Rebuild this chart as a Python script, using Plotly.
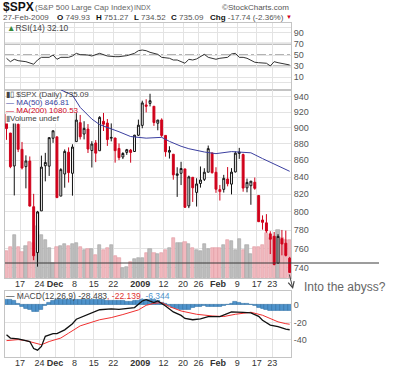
import plotly.graph_objects as go

# ---------------- data ----------------
dates = [
    "2008-11-11", "2008-11-12", "2008-11-13", "2008-11-14",
    "2008-11-17", "2008-11-18", "2008-11-19", "2008-11-20", "2008-11-21",
    "2008-11-24", "2008-11-25", "2008-11-26", "2008-11-28",
    "2008-12-01", "2008-12-02", "2008-12-03", "2008-12-04", "2008-12-05",
    "2008-12-08", "2008-12-09", "2008-12-10", "2008-12-11", "2008-12-12",
    "2008-12-15", "2008-12-16", "2008-12-17", "2008-12-18", "2008-12-19",
    "2008-12-22", "2008-12-23", "2008-12-24", "2008-12-26",
    "2008-12-29", "2008-12-30", "2008-12-31", "2009-01-02",
    "2009-01-05", "2009-01-06", "2009-01-07", "2009-01-08", "2009-01-09",
    "2009-01-12", "2009-01-13", "2009-01-14", "2009-01-15", "2009-01-16",
    "2009-01-20", "2009-01-21", "2009-01-22", "2009-01-23",
    "2009-01-26", "2009-01-27", "2009-01-28", "2009-01-29", "2009-01-30",
    "2009-02-02", "2009-02-03", "2009-02-04", "2009-02-05", "2009-02-06",
    "2009-02-09", "2009-02-10", "2009-02-11", "2009-02-12", "2009-02-13",
    "2009-02-17", "2009-02-18", "2009-02-19", "2009-02-20",
    "2009-02-23", "2009-02-24", "2009-02-25", "2009-02-26", "2009-02-27",
]
opens = [917.15, 893.39, 853.13, 904.36, 873.23, 852.34, 859.03, 805.87, 755.84, 801.20,
         853.40, 852.90, 886.89, 888.61, 817.94, 843.60, 869.75, 844.43, 882.71, 906.48,
         892.17, 898.35, 871.79, 881.07, 871.53, 908.16, 905.98, 886.96, 887.20, 874.31,
         863.87, 869.51, 872.37, 870.58, 890.59, 902.99, 929.17, 931.17, 927.45, 905.73,
         909.91, 890.40, 869.79, 867.28, 841.99, 844.45, 849.64, 806.77, 839.74, 822.16,
         832.50, 837.30, 845.73, 868.89, 845.69, 823.09, 825.69, 837.77, 831.75, 846.09,
         868.24, 866.87, 827.41, 829.91, 833.95, 818.61, 791.06, 787.91, 775.87, 773.25,
         744.69, 770.64, 765.76, 749.93]
highs = [917.15, 893.39, 913.01, 916.88, 882.29, 865.90, 864.57, 820.52, 801.20, 865.60,
         868.94, 887.68, 896.25, 888.61, 850.54, 873.12, 875.60, 879.42, 918.57, 916.26,
         908.27, 904.63, 883.24, 884.63, 914.66, 918.85, 911.02, 905.47, 887.37, 880.44,
         869.79, 873.74, 873.70, 891.12, 910.32, 934.73, 936.63, 943.85, 927.45, 910.00,
         911.93, 890.40, 877.02, 867.28, 851.59, 858.13, 849.64, 841.72, 839.74, 838.61,
         852.53, 850.45, 877.86, 868.89, 851.66, 830.78, 842.60, 851.85, 850.55, 870.75,
         875.01, 868.05, 838.22, 835.48, 839.43, 818.61, 796.17, 797.58, 778.69, 777.85,
         775.49, 780.12, 779.42, 751.27]
lows = [884.90, 850.48, 818.69, 869.88, 848.98, 826.84, 806.18, 747.78, 741.02, 801.20,
        834.99, 841.37, 881.21, 815.69, 817.94, 827.60, 833.60, 818.41, 882.71, 885.38,
        885.45, 868.73, 851.35, 857.72, 871.53, 895.94, 877.44, 883.02, 857.09, 860.10,
        861.44, 866.52, 857.07, 870.58, 889.67, 899.35, 919.53, 927.28, 902.37, 896.81,
        888.31, 864.32, 862.02, 836.93, 817.04, 830.66, 804.47, 804.30, 811.29, 806.07,
        827.69, 835.40, 845.73, 844.15, 821.67, 812.87, 821.98, 829.18, 819.91, 845.42,
        861.65, 822.99, 822.30, 808.06, 825.21, 789.17, 780.43, 777.03, 754.25, 742.37,
        744.69, 752.89, 751.75, 734.52]
closes = [898.95, 852.30, 911.29, 873.29, 850.75, 859.12, 806.58, 752.44, 800.03, 851.81,
          857.39, 887.68, 896.24, 816.21, 848.81, 870.74, 845.22, 876.07, 909.70, 888.67,
          899.24, 873.59, 879.73, 868.57, 913.18, 904.42, 885.28, 887.88, 871.63, 863.16,
          868.15, 872.80, 869.42, 890.64, 903.25, 931.80, 927.45, 934.70, 906.65, 909.73,
          890.35, 870.26, 871.79, 842.62, 843.74, 850.12, 805.22, 840.24, 827.50, 831.95,
          836.57, 845.71, 874.09, 845.14, 825.88, 825.44, 838.51, 832.23, 845.85, 868.60,
          869.89, 827.16, 833.74, 835.19, 826.84, 789.17, 788.42, 778.94, 770.05, 743.33,
          773.14, 764.90, 752.83, 735.09]
close_before_first = 919.21

# volume (relative units, read as bar heights)
volume = [27, 30.7, 43, 31.3, 26.3, 32, 36.3, 35, 52, 43,
          38, 29.7, 15, 31.3, 32.3, 33.7, 32.3, 34, 34.7, 31.3,
          28, 28.7, 28.7, 23, 33, 28, 29.7, 33, 22.3, 19.7,
          9.7, 10.7, 16.3, 18.7, 19.7, 19.7, 24.7, 29, 24.7, 23.7,
          24.7, 28, 30.3, 39.7, 34.7, 34.7, 36.3, 33.7, 30.3, 28,
          27, 33.7, 28.7, 30.3, 29.7, 30.3, 33, 38, 37, 28,
          39, 28, 33, 23.7, 31.3, 31.3, 33, 44.7, 39.7, 41.3,
          48, 39.7, 38, 38]

# MA(50) read at selected bars
ma50_bar = [14, 17, 19, 22, 24, 27, 29, 32, 36, 40, 42, 45, 47, 51, 54, 58, 63, 66, 70, 73]
ma50_val = [949, 942, 926, 911, 904, 899, 895, 889, 887, 888, 883, 877, 874, 870, 868,
            870.5, 869, 862, 853, 846.81]

# RSI(14) read at selected bars
rsi_bar = [0, 1, 2, 3, 5, 6, 7, 8, 9, 11, 12, 13, 14, 16, 17, 18, 19, 21, 22, 24, 25, 26,
           28, 29, 31, 33, 34, 35, 36, 37, 39, 40, 42, 43, 44, 46, 47, 48, 49, 50, 51, 52,
           54, 55, 57, 58, 59, 60, 61, 62, 64, 65, 67, 68, 69, 70, 72, 73]
rsi_val = [44.1, 38, 42.3, 39.8, 38, 35.2, 33.4, 41, 45.8, 45.8, 50, 42.3, 45.8, 45.8,
           48.2, 53, 50.6, 50, 48.2, 53, 51.2, 48.2, 47, 47, 48.8, 53, 57.7, 58.9, 57.7,
           54.8, 51.2, 45.8, 44.1, 41, 41, 35.2, 42.3, 41, 42.9, 47, 51.2, 45.8, 42.3,
           44.1, 45.8, 51.8, 53, 45.8, 45.8, 44.1, 37, 36.2, 35.2, 30.4, 38, 36.2, 33.4, 32.1]

# MACD(12,26,9)
macd_bar = [0, 1, 3, 6, 7, 8, 9, 10, 12, 13, 15, 17, 18, 21, 24, 27, 29, 33, 35, 36, 38,
            39, 41, 43, 45, 46, 48, 50, 51, 52, 55, 57, 58, 61, 63, 65, 66, 68, 70, 72, 73]
macd_val = [-34.3, -38, -39, -42, -50, -52, -47.6, -36, -33, -33, -28.6, -21.5, -16.4,
            -10.5, -5.5, -4.6, -5.1, -3, 4.6, 6, 2.7, 4.6, -1.1, -8, -12, -15.5, -17, -16,
            -14.5, -13.3, -13.3, -10, -8, -8.4, -9.1, -13, -17.5, -23.2, -25, -27.8, -28.483]
signal_bar = [0, 3, 5, 8, 9, 11, 14, 16, 19, 24, 27, 30, 34, 36, 38, 40, 42, 45, 49, 53,
              56, 59, 63, 66, 70, 72, 73]
signal_val = [-41, -39.8, -41, -44.6, -45.7, -42, -38, -32.4, -24, -17, -14.5, -11, -5.7,
              -0.4, 1.9, 2.7, -1.9, -6.9, -10.7, -12.6, -13.3, -10.7, -8.4, -11.8, -19.4,
              -21.5, -22.139]
macd_hist = [5.5, 5.5, 5, 1, -2, -4, -6, -8, -8, -5, -1, 3, 5, 5.5,
             6, 6, 6, 6, 6, 6, 5.5, 5.5, 5.5, 5.5, 5.5, 5.5, 5, 5, 5, 5, 4.5, 4, 4, 4.5, 5, 5.5, 6,
             6, 5.5, 5, 3, 1, -1, -3, -4, -5.5, -6, -5, -3, -2, -1.5, -1, -1.5, -2, -2, -1.5, -1,
             0.5, 2, 4, 3, 2, 1.5, 0.5, -1, -3, -4.5, -5.5, -6.5, -7, -7, -6.5, -6.5, -6.344]

tick_dates = ["2008-11-17", "2008-11-24", "2008-12-01", "2008-12-08", "2008-12-15",
              "2008-12-22", "2009-01-02", "2009-01-12", "2009-01-20", "2009-01-26",
              "2009-02-02", "2009-02-09", "2009-02-17", "2009-02-23"]
tick_labels = ["17", "24", "<b>Dec</b>", "8", "15", "22", "<b>2009</b>", "12", "20", "26",
               "<b>Feb</b>", "9", "17", "23"]
price_ticks = [740, 760, 780, 800, 820, 840, 860, 880, 900, 920, 940]
rsi_ticks = [10, 30, 50, 70, 90]
macd_ticks = [-40, -20, 0]

# ---------------- styling ----------------
FONT = "Liberation Sans, Arial, sans-serif"
RED = "#D0021B"
GRID = "#E3E3E3"
FRAME = "#C4C4C4"
W, H = 400, 370

def px_x(p):
    return p / W

def px_y(p):
    return 1 - p / H

n = len(dates)
idx = list(range(n))
tickvals = [dates.index(d) - 0.5 for d in tick_dates]
year_line = dates.index("2009-01-02") - 0.5
xr = [-0.39, 73.34]
X_DOM = [px_x(5), px_x(291)]

prev = [close_before_first] + closes[:-1]
up_day = [c >= p for c, p in zip(closes, prev)]

fig = go.Figure()

# ---- volume (base axis of main panel) ----
vol_fill = ["#BDBDBD" if u else "#F1B8BE" for u in up_day]
vol_line = ["#A2A2A2" if u else "#E39AA2" for u in up_day]
fig.add_trace(go.Bar(x=idx, y=volume, xaxis="x2", yaxis="y2", width=0.82,
                     marker=dict(color=vol_fill, line=dict(color=vol_line, width=0.6)),
                     hoverinfo="skip"))

# ---- candles ----
grpA = [i for i in idx if (up_day[i] and closes[i] >= opens[i]) or (not up_day[i] and closes[i] < opens[i])]
grpB = [i for i in idx if i not in grpA]

def sub(lst, g):
    return [lst[i] for i in g]

fig.add_trace(go.Candlestick(
    x=grpA, open=sub(opens, grpA), high=sub(highs, grpA), low=sub(lows, grpA), close=sub(closes, grpA),
    xaxis="x2", yaxis="y3", whiskerwidth=0,
    increasing=dict(line=dict(color="#111111", width=1), fillcolor="white"),
    decreasing=dict(line=dict(color=RED, width=1), fillcolor=RED),
    hoverinfo="skip"))
if grpB:
    fig.add_trace(go.Candlestick(
        x=grpB, open=sub(opens, grpB), high=sub(highs, grpB), low=sub(lows, grpB), close=sub(closes, grpB),
        xaxis="x2", yaxis="y3", whiskerwidth=0,
        increasing=dict(line=dict(color=RED, width=1), fillcolor="white"),
        decreasing=dict(line=dict(color="#111111", width=1), fillcolor="#111111"),
        hoverinfo="skip"))

fig.add_trace(go.Scatter(x=ma50_bar, y=ma50_val, xaxis="x2", yaxis="y3", mode="lines",
                         line=dict(color="#3B3FA0", width=1), hoverinfo="skip"))

# ---- RSI ----
fig.add_trace(go.Scatter(x=rsi_bar, y=rsi_val, xaxis="x", yaxis="y", mode="lines",
                         line=dict(color="#333333", width=1), hoverinfo="skip"))

# ---- MACD ----
fig.add_trace(go.Bar(x=idx, y=macd_hist, xaxis="x3", yaxis="y4", width=1.0,
                     marker=dict(color="#4E93CC", line=dict(color="#2F70A6", width=0.6)),
                     hoverinfo="skip"))
fig.add_trace(go.Scatter(x=signal_bar, y=signal_val, xaxis="x3", yaxis="y4", mode="lines",
                         line=dict(color="#F03030", width=1), hoverinfo="skip"))
fig.add_trace(go.Scatter(x=macd_bar, y=macd_val, xaxis="x3", yaxis="y4", mode="lines",
                         line=dict(color="#111111", width=1.3), hoverinfo="skip"))

tickfont = dict(family=FONT, size=9, color="#555555")

def xax(anchor, labels):
    return dict(domain=X_DOM, range=xr, anchor=anchor, tickvals=tickvals, ticktext=tick_labels,
                showticklabels=labels, showgrid=True, gridcolor=GRID, gridwidth=1, zeroline=False,
                showline=True, mirror=True, linecolor=FRAME, linewidth=1, ticks="",
                ticklabelstandoff=-3,
                tickfont=dict(family=FONT, size=9, color="#333333"), fixedrange=True,
                rangeslider=dict(visible=False))

def yax(dom, rng, tv, tt, **kw):
    d = dict(range=rng, side="right", tickvals=tv, ticktext=tt, showgrid=True,
             gridcolor=GRID, gridwidth=1, zeroline=False, showline=True, mirror=True,
             linecolor=FRAME, linewidth=1, ticks="", tickfont=tickfont, fixedrange=True)
    if dom is not None:
        d["domain"] = dom
    d.update(kw)
    return d

fig.update_layout(
    width=W, height=H, margin=dict(l=0, r=0, t=0, b=0),
    paper_bgcolor="white", plot_bgcolor="white", showlegend=False,
    font=dict(family=FONT, size=9, color="#555555"),
    barmode="overlay", bargap=0,
    xaxis=xax("y", False),
    yaxis=yax([px_y(90), px_y(23)], [-12.8, 107.4], [0, 10, 30, 50, 70, 90, 100],
              ["", "10", "30", "50", "70", "90", ""]),
    xaxis2=xax("y2", True),
    yaxis2=dict(domain=[px_y(278), px_y(90)], range=[0, 188], showticklabels=False,
                showgrid=False, zeroline=False, showline=True, mirror=True, linecolor=FRAME,
                ticks="", fixedrange=True),
    yaxis3=yax(None, [2.86296, 2.97718], price_ticks, [str(v) for v in price_ticks],
               type="log", overlaying="y2", anchor="x2"),
    xaxis3=xax("y4", True),
    yaxis4=yax([px_y(357), px_y(290.7)], [-59.8, 16.4], macd_ticks, [str(v) for v in macd_ticks]),
)

# RSI reference lines
for lvl in (70, 30):
    fig.add_shape(type="line", xref="x domain", yref="y", x0=0, x1=1, y0=lvl, y1=lvl,
                  line=dict(color="#AAAAAA", width=2), layer="below")
fig.add_shape(type="line", xref="x domain", yref="y", x0=0, x1=1, y0=50, y1=50,
              line=dict(color="#666666", width=1, dash="dashdot"), layer="below")
# year separators
for xa, ya in (("x", "y"), ("x2", "y2"), ("x3", "y4")):
    fig.add_shape(type="line", xref=xa, yref=ya + " domain", x0=year_line, x1=year_line,
                  y0=0, y1=1, line=dict(color="#A8A8A8", width=1), layer="below")

# hand-drawn level line and arrow
fig.add_shape(type="line", xref="paper", yref="paper", x0=px_x(5), x1=px_x(379),
              y0=px_y(263), y1=px_y(263), line=dict(color="#3A3A3A", width=1))
fig.add_annotation(xref="paper", yref="paper", x=px_x(293), y=px_y(289), ax=-4, ay=-16,
                   text="", showarrow=True, arrowhead=5, arrowsize=1.2, arrowwidth=1,
                   arrowcolor="#444444")

def txt(x, y, s, size=9, color="#555555", anchor="left", bg=None):
    fig.add_annotation(xref="paper", yref="paper", x=px_x(x), y=px_y(y), text=s,
                       showarrow=False, xanchor=anchor, yanchor="middle", borderpad=0,
                       bgcolor=bg, font=dict(family=FONT, size=size, color=color))

txt(303, 287, "Into the abyss?", size=12, color="#666666")

# header
txt(2, 7, "<b>$SPX</b>", size=12, color="#111111")
txt(34, 7, "(S&P 500 Large Cap Index)", size=8, color="#666666")
txt(133, 7, "INDX", size=7, color="#666666")
txt(290, 7, "©StockCharts.com", size=8, color="#555555", anchor="right")
B = "<span style='color:#111111'><b>%s</b></span>"
txt(2, 17.5, "27-Feb-2009", size=8, color="#555555")
txt(56, 17.5, (B % "O") + " 749.93", size=8, color="#555555")
txt(95, 17.5, (B % "H") + " 751.27", size=8, color="#555555")
txt(133, 17.5, (B % "L") + " 734.52", size=8, color="#555555")
txt(170, 17.5, (B % "C") + " 735.09", size=8, color="#555555")
txt(209, 17.5, (B % "Chg") + " -17.74 (-2.36%)", size=8, color="#555555")
txt(285, 17.5, "▼", size=6, color=RED)

# panel legends
txt(6, 28, "<span style='color:#3A8A3A'>▲</span>RSI(14) 32.10", size=8.5, color="#444444")
txt(5, 94.5, "▮▯ $SPX (Daily) 735.09", size=8, color="#444444")
txt(5, 102.3, "— MA(50) 846.81", size=8, color="#3B3FA0")
txt(5, 110.1, "— MA(200) 1080.53", size=8, color=RED)
txt(5, 118.5, "<span style='color:#888888'>▮</span>Volume undef", size=8, color="#444444", bg="white")
txt(5, 296, "<span style='color:#111111'>—</span> MACD(12,26,9) -28.483"
    "<span style='color:#E03030'>, -22.139</span><span style='color:#4E93CC'>, -6.344</span>",
    size=8.5, color="#444444")

fig.write_html("out.html", config={"displayModeBar": False},
               post_script="document.body.style.margin='0';document.body.style.padding='0';")
